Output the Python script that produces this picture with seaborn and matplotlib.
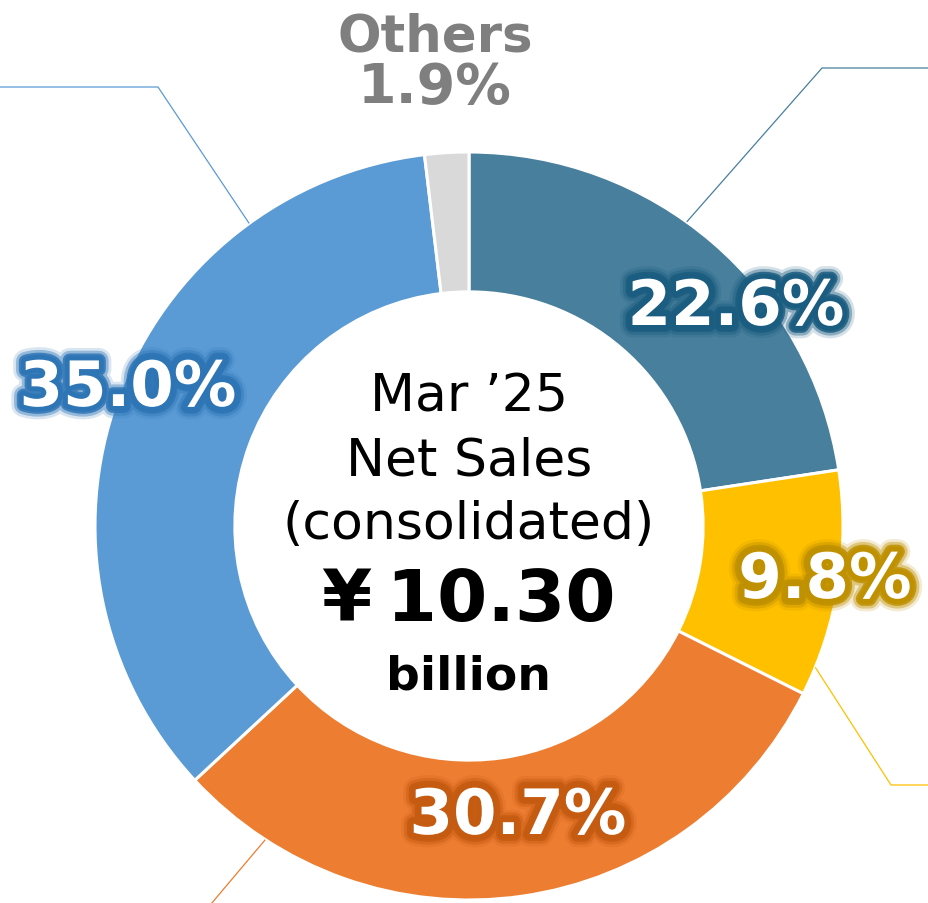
import matplotlib
matplotlib.use("Agg")
import matplotlib.pyplot as plt
import matplotlib.patheffects as pe
import numpy as np
import seaborn as sns

sns.set_theme(style="white")
plt.rcParams['font.family'] = ['DejaVu Sans']

# data
segments = ['Segment A', 'Segment B', 'Segment C', 'Segment D', 'Others']
shares = [22.6, 9.8, 30.7, 35.0, 1.9]
seg_colors = ['#477F9D', '#FFC000', '#ED7D31', '#5B9BD5', '#D9D9D9']
glow_colors = ['#1B5D80', '#BF9000', '#C55A11', '#2E75B6', None]
center_lines = ['Mar \u201925', 'Net Sales', '(consolidated)']
total_label = '\u00a5\u200910.30'
unit_label = 'billion'

# layout (pixel space, y up)
W, H = 929, 904
cx, cy, R = 469, 377, 374
label_pos = [(736, 595), (825, 322), (518, 86), (128, 514), (435, 816)]
# leader lines: anchor angle on the ring, elbow point, end point
leaders = [(54.4, (822, 835), (929, 835)),
           (-22.2, (891, 118), (929, 118)),
           (-123.0, (195, -20), None),
           (126.0, (158, 816), (0, 816))]

fig = plt.figure(figsize=(W / 100, H / 100), dpi=100)
ax = fig.add_axes([0, 0, 1, 1])

ax.pie(shares, colors=seg_colors, startangle=90, counterclock=False,
       center=(cx, cy), radius=R, frame=True,
       wedgeprops=dict(width=R * 0.374, edgecolor='white', linewidth=2.2))
ax.set_xlim(0, W)
ax.set_ylim(0, H)
ax.set_aspect('equal')
ax.axis('off')

# leader lines
for i, (ang, elbow, end) in enumerate(leaders):
    a = np.deg2rad(ang)
    x0, y0 = cx + R * np.cos(a), cy + R * np.sin(a)
    xs = [x0, elbow[0]]
    ys = [y0, elbow[1]]
    if end is not None:
        xs.append(end[0])
        ys.append(end[1])
    ax.plot(xs, ys, color=seg_colors[i], lw=0.9, solid_capstyle='butt')

# percentage labels with glow
for i, (s, (x, y)) in enumerate(zip(shares, label_pos)):
    if glow_colors[i] is None:
        ax.text(x, y + 50, segments[i], ha='center', va='center', fontsize=37,
                fontweight='bold', color='#7F7F7F')
        ax.text(x, y, f'{s:.1f}%', ha='center', va='center', fontsize=40,
                fontweight='bold', color='#7F7F7F')
        continue
    g = glow_colors[i]
    effects = [pe.Stroke(linewidth=18, foreground=g, alpha=0.18),
               pe.Stroke(linewidth=14, foreground=g, alpha=0.4),
               pe.Stroke(linewidth=10, foreground=g, alpha=0.85),
               pe.Stroke(linewidth=7, foreground=g, alpha=1.0),
               pe.Normal()]
    ax.text(x, y, f'{s:.1f}%', ha='center', va='center', fontsize=45,
            fontweight='bold', color='white', path_effects=effects)

# center text
for k, line in enumerate(center_lines):
    ax.text(cx, 506 - k * 63.5, line, ha='center', va='center', fontsize=37.5,
            color='black')
ax.text(cx, 302, total_label, ha='center', va='center', fontsize=52,
        fontweight='bold', color='black')
ax.text(cx, 227, unit_label, ha='center', va='center', fontsize=34,
        fontweight='bold', color='black')

fig.savefig('out.png', dpi=100, facecolor='white')
